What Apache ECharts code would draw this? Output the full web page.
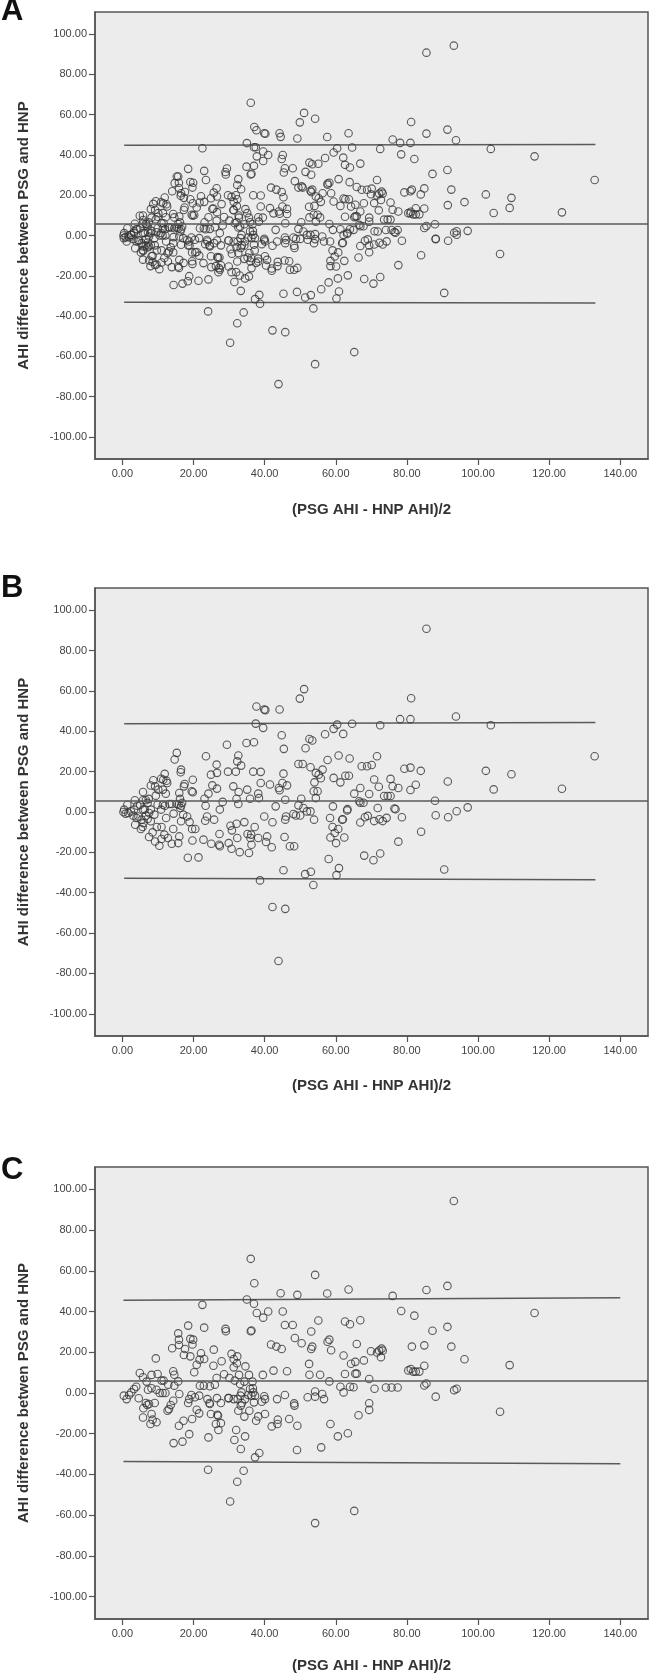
<!DOCTYPE html>
<html>
<head>
<meta charset="utf-8">
<script src="https://cdn.jsdelivr.net/npm/echarts@6/dist/echarts.min.js"></script>
<style>
html,body{margin:0;padding:0;background:#fff;}
#chart{width:650px;height:1676px;}
</style>
</head>
<body>
<div id="chart"></div>
<script>
// ---- tick labels ----
const xTicks = [0, 20, 40, 60, 80, 100, 120, 140];
const yTicks = [-100, -80, -60, -40, -20, 0, 20, 40, 60, 80, 100];

// ---- axis titles / panel letters ----
const xTitle = '(PSG AHI - HNP AHI)/2';
const yTitleAB = 'AHI difference between PSG and HNP';
const yTitleC = 'AHI difference betwen PSG and HNP';
const panelLetters = ['A', 'B', 'C'];

// ---- panel B points [mean, difference] ----
const bPoints = [
[51.1,60.9],[49.9,56.2],[37.7,52.3],[39.9,50.8],[40.2,50.5],[44.2,50.8],[37.5,43.8],[39.6,41.7],[44.8,38.0],[29.4,33.3],
[34.9,34.2],[37.0,34.6],[45.4,31.3],[52.6,36.2],[53.4,35.4],[51.5,31.6],[57.0,38.5],[59.4,41.2],[60.4,43.3],[62.1,38.7],
[64.6,43.7],[60.8,28.0],[63.9,26.5],[57.7,25.8],[49.5,23.8],[50.7,23.8],[52.9,22.2],[54.4,19.4],[55.2,18.5],[56.3,21.0],
[55.8,16.7],[59.4,16.9],[61.3,14.7],[62.7,18.0],[63.7,18.0],[65.2,9.1],[54.0,14.7],[53.8,10.3],[54.9,10.3],[54.4,6.9],
[45.3,19.0],[45.0,14.4],[46.3,13.2],[44.0,11.9],[44.2,10.8],[45.8,6.1],[43.1,2.8],[41.5,13.6],[38.9,14.4],[38.9,19.9],
[36.8,20.0],[32.6,28.0],[32.3,25.1],[33.4,23.0],[31.9,20.0],[29.7,20.0],[31.2,12.7],[32.7,9.9],[35.1,11.1],[35.9,6.6],
[38.2,9.1],[38.4,6.9],[32.1,6.6],[32.6,4.0],[50.3,6.6],[49.5,3.3],[50.9,2.0],[51.9,0.3],[52.9,0.3],[48.8,-1.7],
[48.1,-1.0],[50.0,-1.7],[53.9,-3.8],[59.2,2.8],[63.2,0.8],[58.4,-3.0],[61.8,-3.8],[59.1,-7.4],[60.7,-8.4],[59.7,-10.4],
[62.4,-12.6],[58.5,-12.6],[60.1,-15.4],[58.0,-23.3],[60.9,-27.8],[60.2,-31.3],[53.0,-29.6],[51.4,-30.8],[53.7,-36.2],[45.3,-28.9],
[45.6,-12.4],[46.0,-2.2],[45.8,-3.8],[42.2,-5.1],[39.9,-2.2],[40.7,-12.1],[42.0,-17.5],[40.4,-14.9],[38.2,-12.9],[36.0,-12.9],
[37.2,-7.4],[36.2,-11.2],[34.3,-5.0],[35.2,-10.9],[36.3,-16.2],[35.6,-20.3],[33.0,-19.9],[30.7,-18.2],[29.9,-15.4],[30.8,-9.1],
[30.4,-6.8],[32.1,-5.8],[32.3,-12.9],[47.1,-17.0],[48.3,-17.0],[38.7,-33.9],[42.2,-47.1],[45.8,-48.0],[43.9,-73.8],
[23.5,27.6],[26.5,23.5],[26.6,19.4],[24.9,18.5],[25.3,13.2],[26.6,11.6],[24.2,9.1],[23.1,6.6],[23.4,3.1],[28.2,5.0],
[27.4,1.2],[23.8,-2.2],[23.3,-4.3],[25.8,-3.8],[27.3,-10.9],[25.0,-15.7],[22.8,-13.7],[27.2,-16.2],[27.4,-17.0],[21.4,-22.5],
[18.4,-22.7],[19.7,-14.1],[19.6,-8.4],[20.5,-8.4],[18.9,-5.0],[18.2,-2.2],[19.8,16.0],[19.5,10.3],[19.8,9.8],[16.5,21.0],
[16.4,19.7],[15.3,29.3],[14.7,26.0],[17.5,13.9],[17.3,12.7],[16.0,9.4],[16.2,6.5],[16.8,4.5],[16.3,2.0],[16.5,3.1],
[15.8,3.6],[15.3,4.0],[17.1,-1.3],[16.5,-4.6],[16.0,-12.1],[15.7,-15.4],[14.3,-8.4],[14.4,-0.8],[13.2,4.0],[13.9,4.0],
[11.9,18.9],[12.4,15.5],[11.5,16.0],[10.9,16.5],[12.6,14.4],[11.4,11.1],[12.2,9.1],[10.1,11.1],[8.7,15.7],[8.0,13.1],
[9.2,12.7],[9.4,8.1],[9.9,3.6],[11.4,3.6],[12.0,3.1],[12.3,-3.0],[10.9,1.2],[9.7,-7.4],[11.0,-7.4],[8.5,-10.1],
[7.5,-12.4],[9.2,-14.6],[10.4,-16.7],[11.8,-11.2],[11.0,-13.4],[12.8,-12.9],[13.9,-15.7],[9.0,-1.3],[8.0,-4.6],[7.1,-3.5],
[5.9,-5.5],[5.2,-8.4],[5.7,-7.4],[3.6,-6.3],[4.5,-2.2],[5.4,-3.8],[6.6,-1.8],[5.8,1.2],[7.5,-0.5],[8.0,1.2],
[7.1,4.5],[7.4,6.5],[6.6,5.8],[5.8,5.8],[5.8,9.9],[5.0,3.6],[4.2,3.1],[3.5,5.8],[3.3,1.2],[2.4,0.3],
[1.4,3.6],[1.7,-0.5],[0.5,1.2],[0.3,0.0],[0.9,-0.8],[3.1,-1.8],[4.0,-3.0],[6.3,1.2],
[72.5,43.0],[78.1,46.0],[81.0,46.0],[81.2,56.4],[93.8,47.3],[103.6,43.0],[132.8,27.6],[123.6,11.5],[109.4,18.7],[102.2,20.4],
[104.4,11.2],[91.5,15.1],[97.1,2.3],[94.0,0.4],[91.6,-2.6],[88.1,-1.6],[87.9,5.6],[90.5,-28.5],[84.0,-9.8],[77.6,-14.7],
[72.5,-20.6],[70.6,-23.9],[68.0,-21.6],[67.3,22.7],[68.8,22.7],[70.1,23.3],[71.6,27.6],[66.9,11.9],[70.8,16.1],[72.1,12.5],
[75.4,16.4],[76.0,12.8],[77.6,11.9],[79.3,21.4],[81.0,22.0],[83.9,20.4],[82.5,13.5],[81.0,10.9],[69.4,8.9],[71.8,2.0],
[73.6,7.9],[74.6,7.9],[75.4,7.9],[76.5,1.7],[76.8,1.4],[78.6,-2.6],[66.6,5.3],[66.9,4.6],[67.8,4.6],[68.2,-2.6],
[69.0,-1.9],[66.9,-5.2],[72.3,-3.6],[73.2,-4.5],[74.3,-2.9],[70.8,-4.5],[85.5,90.8],[63.3,1.4],[62.0,-3.6]
];

// ---- panel C points [mean, difference] ----
const cPoints = [
[36.1,65.9],[54.2,58.0],[37.1,53.9],[44.5,49.0],[49.2,48.2],[57.6,48.9],[63.6,50.8],[22.5,43.3],[35.0,45.9],[37.0,43.8],
[37.8,39.3],[39.6,37.0],[41.0,40.0],[45.1,40.0],[45.7,33.4],[47.9,33.4],[48.5,27.0],[50.4,24.4],[53.1,30.2],[55.1,35.6],
[62.6,35.1],[64.0,33.8],[57.7,25.2],[58.2,26.2],[58.7,21.0],[53.4,22.8],[53.1,21.6],[52.5,14.3],[52.6,9.0],[55.6,9.0],
[58.2,5.7],[62.2,18.4],[62.6,9.3],[61.3,3.1],[62.2,0.3],[64.0,3.1],[65.0,2.8],[36.1,30.3],[36.3,30.7],[41.8,23.8],
[43.3,22.8],[44.8,21.6],[42.5,11.0],[46.3,10.7],[39.5,8.9],[34.6,13.1],[30.7,19.2],[32.3,18.0],[31.3,16.7],[32.2,14.6],
[31.3,12.6],[29.0,31.5],[29.1,30.3],[27.9,15.6],[25.7,21.3],[25.6,13.4],[26.5,7.4],[28.6,9.2],[30.1,7.4],[23.0,32.1],
[18.5,33.1],[19.1,26.6],[19.9,26.2],[19.7,23.8],[15.7,29.3],[15.9,26.2],[15.9,23.6],[14.0,22.0],[17.6,21.6],[17.3,18.7],
[19.1,18.0],[20.9,13.9],[21.7,16.4],[22.1,19.5],[23.0,16.7],[20.2,10.2],[14.3,10.7],[14.6,9.0],[9.4,17.0],[4.9,9.8],
[5.8,7.7],[6.8,5.6],[8.2,8.9],[9.9,9.3],[11.0,6.1],[11.6,6.1],[12.9,4.1],[15.7,5.7],[14.6,3.6],[9.6,1.6],
[10.5,0.0],[11.3,0.0],[12.1,0.0],[8.2,2.3],[7.2,1.6],[9.1,-4.9],[7.5,-5.4],[6.6,-4.9],[7.0,-5.9],[5.9,-7.5],
[5.8,-12.0],[8.2,-10.3],[8.5,-13.1],[9.6,-14.4],[7.9,-15.2],[3.3,2.0],[3.9,3.1],[2.5,0.3],[1.9,-1.0],[1.2,-3.0],
[0.4,-1.3],[4.6,-2.6],[13.1,-7.9],[12.7,-8.7],[13.6,-5.9],[14.3,-3.8],[16.0,-0.5],[14.4,-24.6],[16.9,-23.9],[15.9,-16.1],
[17.2,-13.6],[19.6,-12.8],[18.8,-20.2],[18.5,-4.9],[18.8,-3.0],[19.4,-1.0],[20.4,-2.1],[21.6,-1.3],[20.9,-8.2],[21.6,-10.0],
[21.8,3.6],[22.9,3.6],[24.6,3.3],[26.0,4.1],[23.9,-3.0],[24.5,-4.9],[24.6,-5.4],[24.9,-10.3],[26.7,-10.7],[26.9,-11.1],
[26.3,-15.2],[27.7,-14.8],[27.0,-18.2],[24.2,-21.8],[24.1,-37.7],[26.6,-2.5],[27.7,-4.9],[29.8,-2.5],[32.4,-3.0],[33.6,-4.9],
[33.3,-6.2],[32.6,-8.7],[34.3,-11.6],[35.7,-8.7],[34.5,-3.0],[35.4,-1.0],[36.3,-1.3],[37.0,-4.6],[37.6,-13.6],[38.2,-11.5],
[37.3,-31.6],[38.5,-29.5],[32.0,-18.2],[31.5,-23.1],[33.3,-27.5],[34.5,-21.3],[34.1,-38.2],[32.3,-43.6],[30.3,-53.3],[39.9,-1.6],
[40.1,-3.0],[39.2,-4.3],[40.1,-10.3],[42.0,-16.4],[43.6,-15.2],[43.7,-13.1],[43.5,-3.0],[45.7,-1.0],[46.9,-12.8],[48.3,-5.1],
[48.4,-6.2],[49.2,-16.1],[49.1,-28.0],[52.1,-2.1],[54.2,0.7],[54.2,-1.8],[56.2,-0.5],[56.7,-3.0],[55.9,-26.7],[58.5,-15.2],
[60.6,-21.3],[63.4,-19.8],[54.2,-63.9],[65.2,-57.9],[35.6,8.9],[36.6,5.6],[33.1,4.4],[34.3,5.6],[32.8,8.9],[31.6,6.1],
[33.5,0.3],[36.7,2.3],[35.9,2.0],[36.8,0.3],[37.3,-1.3],[33.2,-1.3],[31.3,-3.0],[29.9,-2.5],
[76.0,47.7],[85.5,50.6],[91.4,52.6],[78.4,40.3],[82.1,38.0],[115.9,39.3],[66.9,35.7],[87.2,30.6],[91.4,32.5],[65.9,24.1],
[69.9,20.5],[71.6,19.9],[72.2,20.8],[72.9,21.8],[73.2,20.8],[72.7,17.6],[81.4,22.8],[84.9,23.4],[92.5,22.8],[96.2,16.6],
[108.9,13.7],[64.3,14.4],[65.5,15.3],[67.9,16.0],[65.5,9.5],[65.9,9.5],[69.4,6.9],[80.4,11.1],[81.1,11.8],[81.8,10.5],
[82.5,10.5],[83.5,10.5],[84.9,13.4],[84.9,3.7],[85.5,4.7],[88.1,-1.8],[93.3,1.4],[94.0,2.1],[106.2,-9.2],[70.9,2.1],
[74.1,2.7],[75.7,2.7],[77.4,2.7],[69.4,-5.0],[69.4,-8.3],[66.4,-10.9],[93.2,94.3]
];

// ---- panel A = all subjects (B and C together) ----
const aPoints = bPoints.concat(cPoints);

// ---- mean difference and limits of agreement ----
const meanA = 6.0, meanB = 5.4, meanC = 5.9;
const upperA = [[0.5, 44.8], [133, 45.2]];
const lowerA = [[0.5, -33.1], [133, -33.5]];
const upperB = [[0.5, 43.7], [133, 44.3]];
const lowerB = [[0.5, -32.8], [133, -33.6]];
const upperC = [[0.3, 45.6], [140, 46.8]];
const lowerC = [[0.3, -33.7], [140, -34.7]];

// ---- layout ----
const X_MIN = -7.7, X_MAX = 147.8, Y_MIN = -111, Y_MAX = 111;
const panels = [
  {pts: aPoints, mean: meanA, up: upperA, lo: lowerA, top: 12, height: 447, yName: yTitleAB, xGap: 43, letterY: 11.5},
  {pts: bPoints, mean: meanB, up: upperB, lo: lowerB, top: 588, height: 448, yName: yTitleAB, xGap: 42, letterY: 588.5},
  {pts: cPoints, mean: meanC, up: upperC, lo: lowerC, top: 1167, height: 452, yName: yTitleC, xGap: 39, letterY: 1170.5}
];

const FONT = "'Liberation Sans', Arial, Helvetica, sans-serif";
const axisCol = '#555555';
const lineCol = '#5a5a5a';

const grids = [], xAxes = [], yAxes = [], series = [], graphics = [];
panels.forEach((p, i) => {
  grids.push({left: 95, width: 553, top: p.top, height: p.height, show: true,
    backgroundColor: '#EBECEB', borderColor: axisCol, borderWidth: 1.5});
  xAxes.push({type: 'value', gridIndex: i, min: X_MIN, max: X_MAX,
    name: xTitle, nameLocation: 'middle', nameGap: p.xGap,
    nameTextStyle: {fontFamily: FONT, fontWeight: 'bold', fontSize: 15, color: '#333'},
    splitLine: {show: false},
    axisLine: {show: true, onZero: false, lineStyle: {color: axisCol, width: 1.5}},
    axisTick: {show: true, length: 6, customValues: xTicks, lineStyle: {color: axisCol, width: 1.2}},
    axisLabel: {customValues: xTicks, margin: 9, fontFamily: FONT, fontSize: 11, color: '#444',
      formatter: v => v.toFixed(2)}
  });
  yAxes.push({type: 'value', gridIndex: i, min: Y_MIN, max: Y_MAX,
    name: p.yName, nameLocation: 'middle', nameGap: 64, nameRotate: 90,
    nameTextStyle: {fontFamily: FONT, fontWeight: 'bold', fontSize: 15, color: '#333'},
    splitLine: {show: false},
    axisLine: {show: true, onZero: false, lineStyle: {color: axisCol, width: 1.5}},
    axisTick: {show: true, length: 6, customValues: yTicks, lineStyle: {color: axisCol, width: 1.2}},
    axisLabel: {customValues: yTicks, margin: 8, fontFamily: FONT, fontSize: 11, color: '#444',
      formatter: v => v.toFixed(2)}
  });
  series.push({type: 'scatter', xAxisIndex: i, yAxisIndex: i, data: p.pts,
    symbol: 'circle', symbolSize: 7.5,
    itemStyle: {color: 'rgba(0,0,0,0)', borderColor: '#333333', borderWidth: 1.1},
    emphasis: {disabled: true}, z: 3,
    markLine: {silent: true, symbol: 'none', label: {show: false},
      lineStyle: {color: lineCol, width: 1.5, type: 'solid'},
      data: [{yAxis: p.mean}]}
  });
  [p.up, p.lo].forEach(d => series.push({type: 'line', xAxisIndex: i, yAxisIndex: i, data: d,
    symbol: 'none', lineStyle: {color: lineCol, width: 1.5}, z: 2, silent: true}));
  graphics.push({type: 'text', x: 1, y: p.letterY,
    style: {text: panelLetters[i], font: "bold 31px " + FONT, fill: '#111',
      textAlign: 'left', textVerticalAlign: 'middle', align: 'left', verticalAlign: 'middle'}});
});

const chart = echarts.init(document.getElementById('chart'), null, {renderer: 'canvas'});
chart.setOption({
  animation: false,
  backgroundColor: '#ffffff',
  grid: grids, xAxis: xAxes, yAxis: yAxes, series: series, graphic: graphics
});
</script>
</body>
</html>
